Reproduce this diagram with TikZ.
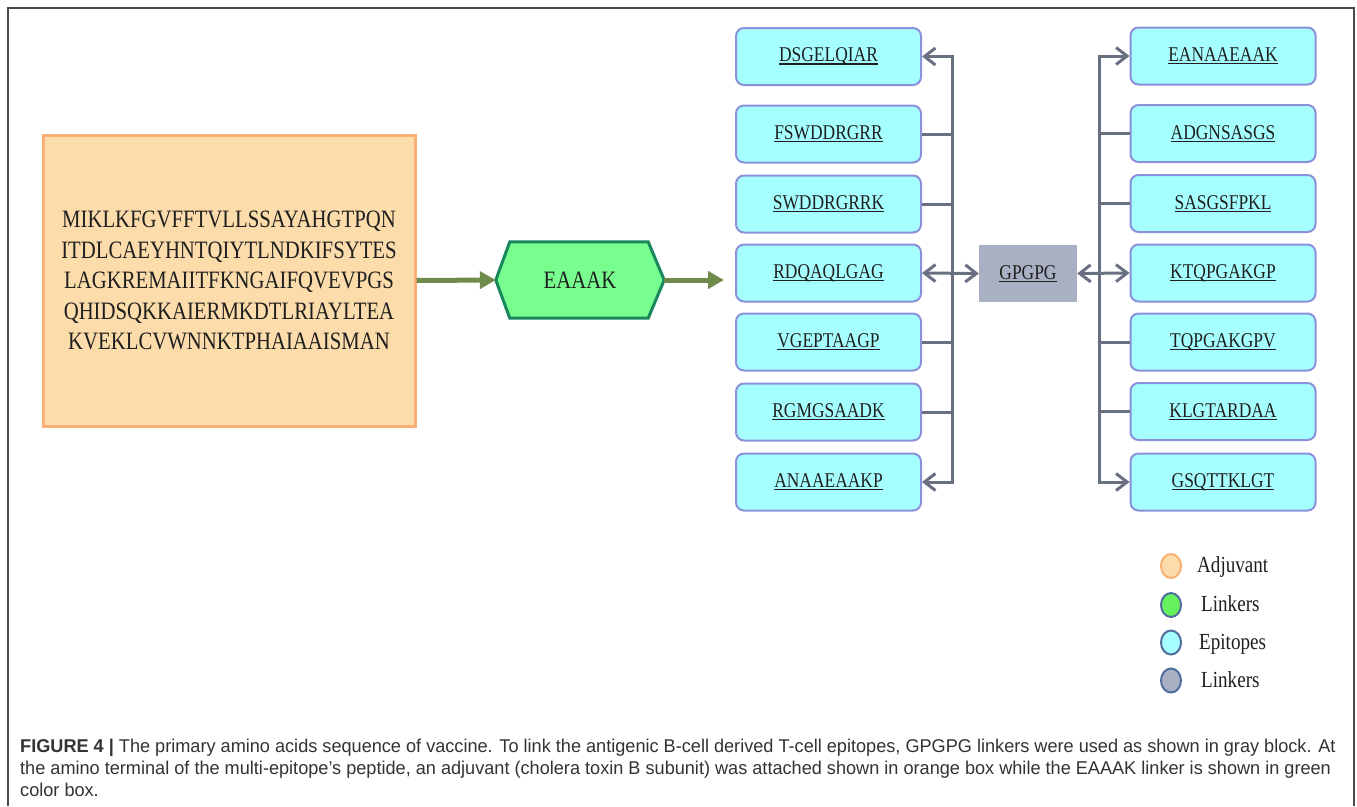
\documentclass[tikz,border=0pt]{standalone}
\usepackage{fontspec}
\setmainfont{Liberation Serif}
\newfontfamily\serifc[FakeStretch=0.83]{Liberation Serif}
\newfontfamily\sansc[FakeStretch=0.98]{Liberation Sans}
\usetikzlibrary{arrows.meta,shapes.geometric,backgrounds}
\definecolor{adjfill}{HTML}{FDDCAB}
\definecolor{adjborder}{HTML}{FBAF74}
\definecolor{hexfill}{HTML}{78FE8E}
\definecolor{hexborder}{HTML}{17875C}
\definecolor{olivecol}{HTML}{6E8B4C}
\definecolor{epifill}{HTML}{A6FFFF}
\definecolor{epiborder}{HTML}{8A91DA}
\definecolor{gpfill}{HTML}{A9B0C4}
\definecolor{conncol}{HTML}{687082}
\definecolor{legborder}{HTML}{4F6E9C}
\definecolor{leggreen}{HTML}{66F25C}
\definecolor{legorange}{HTML}{F8B070}
\definecolor{framecol}{HTML}{4A4A4A}
\definecolor{captext}{HTML}{333333}
\newcommand\ulx[1]{\setbox0\hbox{#1}\rlap{\rule[-2.8pt]{\wd0}{1.2pt}}\box0}
\begin{document}
\begin{tikzpicture}[x=1pt,y=-1pt,
  txt/.style={text=black!88},
  adjbox/.style={draw=adjborder, fill=adjfill, line width=3pt, minimum width=372pt, minimum height=291pt, inner sep=0pt, align=center, txt, font=\serifc\fontsize{25}{30.5}\selectfont},
  epi/.style={draw=epiborder, fill=epifill, line width=2pt, rounded corners=8pt, minimum width=185pt, minimum height=57pt, inner sep=0pt, txt, font=\serifc\fontsize{21}{24}\selectfont},
  gpbox/.style={fill=gpfill, minimum width=98pt, minimum height=57pt, inner sep=0pt, txt, font=\serifc\fontsize{21}{24}\selectfont},
  conn/.style={draw=conncol, line width=3pt, >={Straight Barb[length=11pt,width=17pt]}},
  olivearrow/.style={draw=olivecol, line width=5pt, -{Triangle[length=16pt,width=17pt]}},
  legdot/.style={ellipse, minimum width=20pt, minimum height=24pt, inner sep=0pt, line width=2pt},
  legtext/.style={anchor=base west, inner sep=0pt, txt, font=\serifc\fontsize{23}{26}\selectfont},
  captxt/.style={anchor=base west, inner sep=0pt, text=captext, font=\sansc\fontsize{18.5}{22}\selectfont}
]
\useasboundingbox (0,0) rectangle (1357,806);
% frame
\draw[framecol, line width=1.5pt] (8,806) -- (8,8) -- (1354,8) -- (1354,806);

% adjuvant
\node[adjbox] (adj) at (229,280.5) {MIKLKFGVFFTVLLSSAYAHGTPQN\\ITDLCAEYHNTQIYTLNDKIFSYTES\\LAGKREMAIITFKNGAIFQVEVPGS\\QHIDSQKKAIERMKDTLRIAYLTEA\\KVEKLCVWNNKTPHAIAAISMAN};

% EAAAK linker
\node[minimum width=168pt, minimum height=76pt, inner sep=0pt, txt, font=\serifc\fontsize{25}{28}\selectfont] (eaaak) at (580,280) {EAAAK};
\begin{scope}[on background layer]
\fill[white] (0,0) rectangle (1357,806);
\draw[fill=hexfill, draw=hexborder, line width=3pt, line join=miter]
  (eaaak.west) -- ([xshift=14pt]eaaak.north west) -- ([xshift=-16pt]eaaak.north east) -- (eaaak.east)
  -- ([xshift=-16pt]eaaak.south east) -- ([xshift=14pt]eaaak.south west) -- cycle;
\end{scope}
\coordinate (oend) at (724,280);
\draw[olivearrow] (adj.east) -- (eaaak.west);
\draw[olivearrow] (eaaak.east) -- (oend);

% left epitopes
\node[epi] (l1) at (828.5,56.5) {\ulx{DSGELQIAR}};
\node[epi] (l2) at (828.5,134) {\ulx{FSWDDRGRR}};
\node[epi] (l3) at (828.5,204) {\ulx{SWDDRGRRK}};
\node[epi] (l4) at (828.5,273) {\ulx{RDQAQLGAG}};
\node[epi] (l5) at (828.5,342) {\ulx{VGEPTAAGP}};
\node[epi] (l6) at (828.5,412) {\ulx{RGMGSAADK}};
\node[epi] (l7) at (828.5,482) {\ulx{ANAAEAAKP}};

% right epitopes
\node[epi] (r1) at (1223,56) {\ulx{EANAAEAAK}};
\node[epi] (r2) at (1223,133.5) {\ulx{ADGNSASGS}};
\node[epi] (r3) at (1223,203.5) {\ulx{SASGSFPKL}};
\node[epi] (r4) at (1223,273) {\ulx{KTQPGAKGP}};
\node[epi] (r5) at (1223,342) {\ulx{TQPGAKGPV}};
\node[epi] (r6) at (1223,411.5) {\ulx{KLGTARDAA}};
\node[epi] (r7) at (1223,482) {\ulx{GSQTTKLGT}};

% GPGPG
\node[gpbox] (gp) at (1028,273.5) {\ulx{GPGPG}};

% buses
\coordinate (busL) at (952,0);
\coordinate (busR) at (1099,0);
\draw[conn,<->] (l1.east) -- (l1.east -| busL) -- (l7.east -| busL) -- (l7.east);
\foreach \n in {l2,l3,l5,l6} \draw[conn] (\n.east) -- (\n.east -| busL);
\draw[conn,<->] (l4.east) -- (gp.west);
\draw[conn,<->] (r1.west) -- (r1.west -| busR) -- (r7.west -| busR) -- (r7.west);
\foreach \n in {r2,r3,r5,r6} \draw[conn] (\n.west) -- (\n.west -| busR);
\draw[conn,<->] (gp.east) -- (r4.west);

% legend
\node[legdot, draw=legorange, fill=adjfill] (d1) at (1171,566) {};
\node[legdot, draw=legborder, fill=leggreen] (d2) at (1171,605) {};
\node[legdot, draw=legborder, fill=epifill] (d3) at (1171,642.5) {};
\node[legdot, draw=legborder, fill=gpfill] (d4) at (1171,680.5) {};
\node[legtext] (t1) at (1197,572) {Adjuvant};
\node[legtext] (t2) at (1201,611) {Linkers};
\node[legtext] (t3) at (1199,649) {Epitopes};
\node[legtext] (t4) at (1201,687) {Linkers};

% caption
\node[captxt] (c1) at (20,752.5) {\textbf{FIGURE 4 |} The primary amino acids sequence of vaccine. To link the antigenic B-cell derived T-cell epitopes, GPGPG linkers were used as shown in gray block. At};
\node[captxt] (c2) at (20,774.5) {the amino terminal of the multi-epitope’s peptide, an adjuvant (cholera toxin B subunit) was attached shown in orange box while the EAAAK linker is shown in green};
\node[captxt] (c3) at (20,796) {color box.};
\end{tikzpicture}
\end{document}
